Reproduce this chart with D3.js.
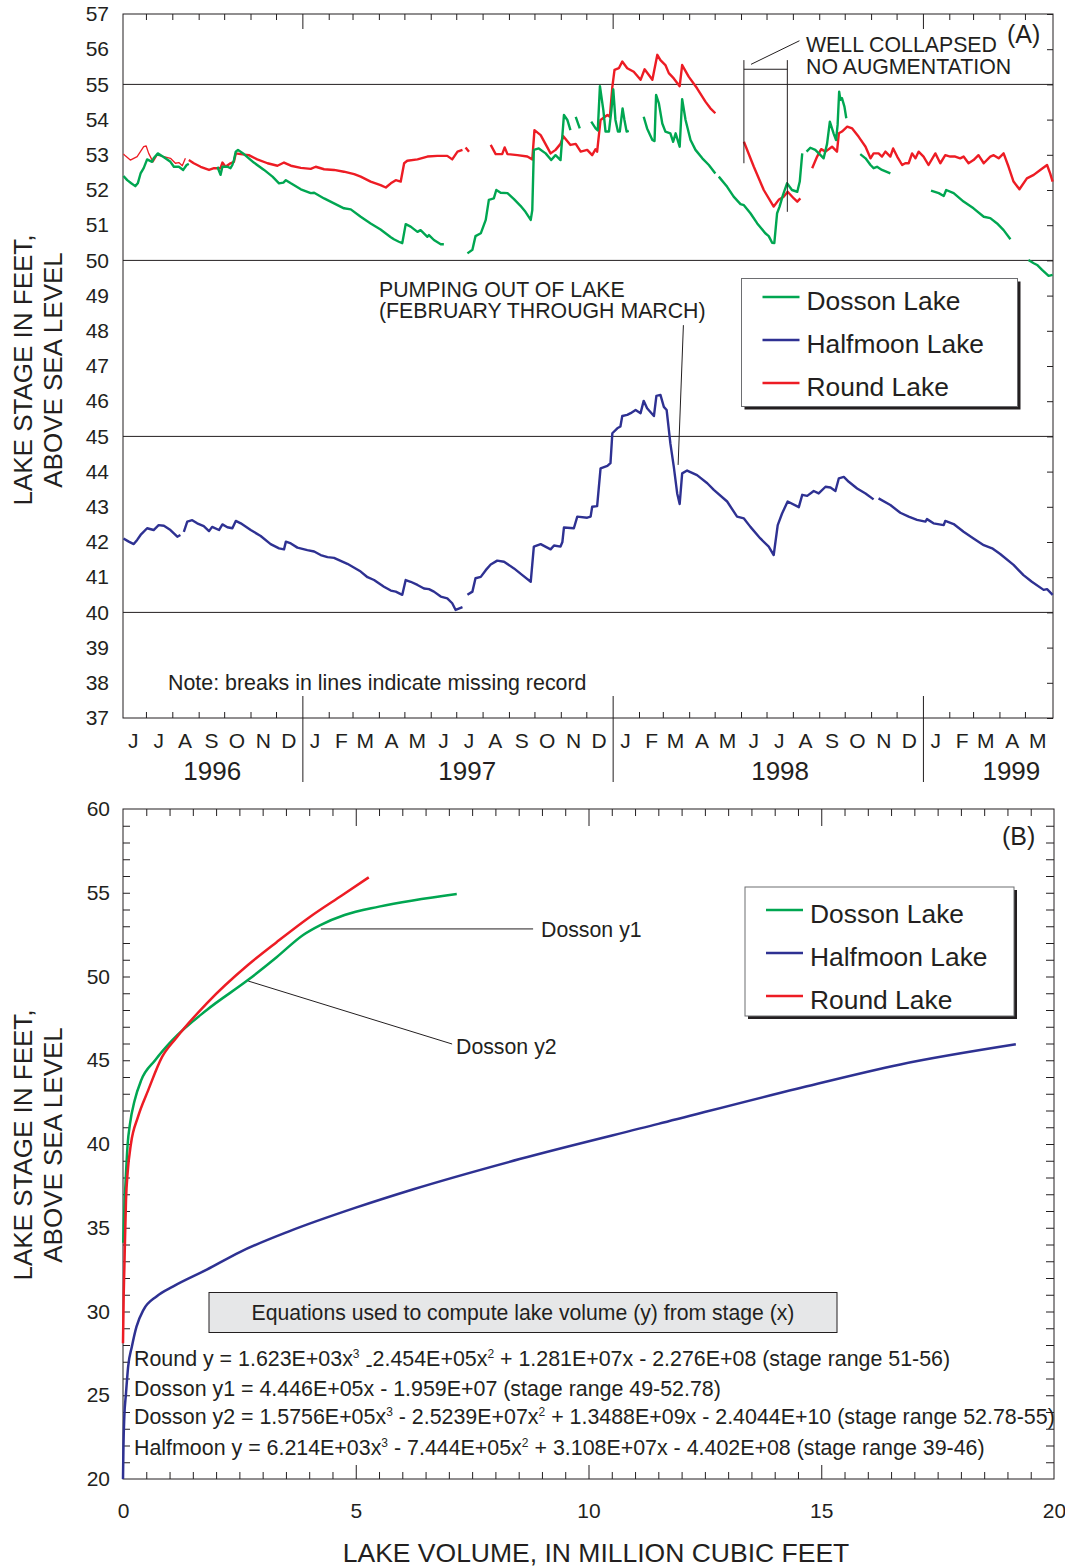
<!DOCTYPE html>
<html>
<head>
<meta charset="utf-8">
<script src="https://cdn.jsdelivr.net/npm/d3@7"></script>
<style>
body { margin: 0; background: #fff; }
svg text { font-family: "Liberation Sans", Arial, Helvetica, sans-serif; fill: #231f20; }
</style>
</head>
<body>
<svg id="chart" width="1065" height="1568"></svg>
<script>
// lake stage records, [decimal year, stage in feet]; null = missing record
var dossonRecord = [
  [1996.425,52.40],[1996.437,52.28],[1996.450,52.19],[1996.463,52.11],[1996.471,52.19],[1996.480,52.47],
  [1996.490,52.62],[1996.501,52.87],[1996.517,52.80],[1996.522,52.90],[1996.535,53.04],[1996.555,52.93],
  [1996.576,52.80],[1996.587,52.66],[1996.603,52.66],[1996.617,52.57],[1996.628,52.71],[1996.635,52.74],
  null,
  [1996.727,52.66],[1996.737,52.43],[1996.743,52.66],[1996.759,52.66],[1996.769,52.62],[1996.775,52.71],
  [1996.780,52.85],[1996.786,53.09],[1996.793,53.14],[1996.812,53.02],[1996.844,52.78],[1996.877,52.57],
  [1996.904,52.38],[1996.925,52.19],[1996.939,52.21],[1996.947,52.28],[1996.963,52.19],[1996.995,52.02],
  [1997.027,51.91],[1997.038,51.92],[1997.070,51.76],[1997.102,51.62],[1997.134,51.48],[1997.156,51.45],
  [1997.188,51.24],[1997.220,51.05],[1997.252,50.88],[1997.285,50.66],[1997.295,50.60],[1997.311,50.53],
  [1997.322,50.49],[1997.333,51.03],[1997.349,50.96],[1997.371,50.81],[1997.381,50.86],[1997.403,50.67],
  [1997.408,50.72],[1997.424,50.58],[1997.446,50.46],[1997.456,50.46],
  null,
  [1997.532,50.20],[1997.548,50.30],[1997.558,50.69],[1997.575,50.77],[1997.591,51.15],[1997.601,51.72],
  [1997.617,51.76],[1997.625,52.00],[1997.639,51.92],[1997.661,51.91],[1997.682,51.74],[1997.703,51.55],
  [1997.719,51.38],[1997.736,51.15],[1997.741,51.43],[1997.746,53.14],[1997.762,53.18],[1997.784,53.04],
  [1997.802,52.85],[1997.816,52.99],[1997.832,52.85],[1997.843,54.13],[1997.854,53.99],[1997.864,53.70],
  null,
  [1997.881,54.08],[1997.894,53.75],
  null,
  [1997.931,53.94],[1997.945,53.75],[1997.952,53.69],[1997.959,54.95],[1997.970,54.27],[1997.977,53.66],
  [1997.988,53.66],[1997.996,54.27],[1998.002,54.86],[1998.009,53.99],[1998.017,53.66],[1998.023,53.66],
  [1998.032,54.32],[1998.038,53.99],[1998.045,53.66],[1998.052,53.68],
  null,
  [1998.100,54.08],[1998.111,53.75],[1998.128,53.42],[1998.135,53.39],[1998.140,54.70],[1998.149,54.46],
  [1998.160,53.89],[1998.170,53.66],[1998.186,53.61],[1998.195,53.37],[1998.203,53.61],[1998.216,53.23],
  [1998.224,54.58],[1998.235,53.99],[1998.251,53.42],[1998.267,53.14],[1998.289,52.90],[1998.310,52.71],
  [1998.331,52.47],
  null,
  [1998.342,52.38],[1998.369,52.09],[1998.390,51.81],[1998.412,51.60],[1998.423,51.57],[1998.444,51.34],
  [1998.466,51.05],[1998.492,50.77],[1998.503,50.69],[1998.514,50.50],[1998.521,50.49],[1998.530,51.34],
  [1998.538,51.53],[1998.549,51.86],[1998.562,52.19],[1998.578,52.00],[1998.595,51.95],[1998.603,52.24],
  [1998.611,53.04],
  null,
  [1998.625,53.09],[1998.637,53.20],[1998.653,53.14],[1998.670,52.99],[1998.680,52.90],[1998.691,53.31],
  [1998.700,53.94],[1998.712,53.61],[1998.720,53.42],[1998.725,53.85],[1998.730,54.79],[1998.734,54.56],
  [1998.739,54.61],[1998.747,54.37],[1998.753,54.04],
  null,
  [1998.798,53.02],[1998.815,52.90],[1998.831,52.71],[1998.841,52.62],[1998.852,52.66],[1998.868,52.57],
  [1998.895,52.47],
  null,
  [1999.026,51.98],[1999.051,51.91],[1999.067,51.83],[1999.075,52.00],[1999.099,51.91],[1999.131,51.67],
  [1999.163,51.48],[1999.196,51.24],[1999.217,51.20],[1999.239,51.05],[1999.260,50.86],[1999.282,50.60],
  null,
  [1999.340,50.01],[1999.357,49.92],[1999.368,49.87],[1999.384,49.73],[1999.405,49.56],[1999.418,49.59]
];

var halfmoonRecord = [
  [1996.425,42.10],[1996.442,42.01],[1996.458,41.94],[1996.469,42.06],[1996.480,42.20],[1996.501,42.39],
  [1996.522,42.34],[1996.538,42.48],[1996.555,42.46],[1996.576,42.34],[1996.598,42.15],[1996.608,42.20],
  null,
  [1996.619,42.29],[1996.630,42.58],[1996.646,42.62],[1996.662,42.53],[1996.683,42.45],[1996.700,42.31],
  [1996.710,42.43],[1996.732,42.34],[1996.743,42.50],[1996.759,42.42],[1996.775,42.39],[1996.786,42.60],
  [1996.802,42.53],[1996.834,42.34],[1996.866,42.17],[1996.898,41.94],[1996.925,41.82],[1996.941,41.79],
  [1996.947,42.01],[1996.963,41.96],[1996.984,41.84],[1997.016,41.77],[1997.038,41.73],[1997.059,41.63],
  [1997.081,41.57],[1997.102,41.55],[1997.145,41.38],[1997.188,41.16],[1997.210,41.00],[1997.231,40.92],
  [1997.263,40.73],[1997.285,40.62],[1997.301,40.59],[1997.322,40.50],[1997.333,40.92],[1997.349,40.87],
  [1997.371,40.78],[1997.392,40.68],[1997.408,40.66],[1997.424,40.59],[1997.446,40.45],[1997.467,40.40],
  [1997.483,40.26],[1997.494,40.07],[1997.516,40.15],
  null,
  [1997.532,40.50],[1997.548,40.59],[1997.558,40.97],[1997.575,41.01],[1997.591,41.20],[1997.607,41.36],
  [1997.628,41.47],[1997.650,41.44],[1997.682,41.25],[1997.709,41.06],[1997.736,40.87],[1997.746,41.87],
  [1997.768,41.94],[1997.800,41.79],[1997.811,41.90],[1997.832,41.87],[1997.838,42.00],[1997.843,42.41],
  [1997.875,42.39],[1997.886,42.72],[1997.918,42.69],[1997.929,42.72],[1997.934,43.00],[1997.950,43.02],
  [1997.961,44.09],[1997.983,44.16],[1997.993,44.24],[1997.999,45.09],[1998.015,45.23],[1998.025,45.28],
  [1998.031,45.58],[1998.047,45.61],[1998.058,45.66],[1998.074,45.75],[1998.090,45.66],[1998.100,46.01],
  [1998.111,45.80],[1998.133,45.58],[1998.141,46.15],[1998.154,46.18],[1998.165,45.84],[1998.174,45.75],
  [1998.186,44.80],[1998.197,44.14],[1998.208,43.38],[1998.216,43.08],[1998.224,43.95],[1998.240,44.03],
  [1998.272,43.90],[1998.305,43.67],[1998.326,43.48],[1998.369,43.15],[1998.401,42.72],[1998.423,42.67],
  [1998.444,42.43],[1998.476,42.10],[1998.503,41.87],[1998.519,41.63],[1998.532,42.48],[1998.546,42.81],
  [1998.564,43.15],[1998.600,42.99],[1998.611,43.34],[1998.627,43.31],[1998.648,43.45],[1998.664,43.38],
  [1998.686,43.57],[1998.702,43.55],[1998.718,43.45],[1998.729,43.81],[1998.745,43.85],[1998.761,43.71],
  [1998.788,43.52],[1998.815,43.38],[1998.841,43.21],
  null,
  [1998.857,43.24],[1998.895,43.05],[1998.927,42.83],[1998.954,42.72],[1998.981,42.63],[1999.008,42.58],
  [1999.013,42.65],[1999.034,42.53],[1999.067,42.48],[1999.072,42.60],[1999.099,42.51],[1999.131,42.29],
  [1999.163,42.10],[1999.196,41.91],[1999.223,41.82],[1999.249,41.66],[1999.292,41.35],[1999.324,41.06],
  [1999.351,40.87],[1999.389,40.64],[1999.400,40.66],[1999.418,40.50]
];

var roundRecord = [
  [1996.425,53.02],[1996.431,52.97],[1996.447,52.85],[1996.469,52.95],[1996.490,53.23],[1996.498,53.25],
  [1996.506,53.04],[1996.520,52.80],[1996.533,52.99],[1996.555,52.95],[1996.576,52.90],[1996.592,52.76],
  [1996.603,52.78],[1996.614,52.69],[1996.624,52.90],
  null,
  [1996.635,52.85],[1996.651,52.76],[1996.673,52.66],[1996.700,52.57],[1996.716,52.62],[1996.737,52.62],
  [1996.743,52.78],[1996.753,52.66],[1996.769,52.76],[1996.780,52.80],[1996.786,53.04],[1996.802,53.02],
  [1996.828,52.99],[1996.855,52.87],[1996.888,52.76],[1996.920,52.69],[1996.941,52.78],[1996.963,52.69],
  [1996.995,52.63],[1997.027,52.60],[1997.043,52.66],[1997.070,52.59],[1997.102,52.57],[1997.134,52.52],
  [1997.167,52.45],[1997.188,52.38],[1997.220,52.24],[1997.252,52.14],[1997.269,52.07],[1997.285,52.19],
  [1997.301,52.28],[1997.317,52.24],[1997.328,52.76],[1997.338,52.83],[1997.371,52.87],[1997.403,52.95],
  [1997.435,52.97],[1997.467,52.97],[1997.483,52.87],[1997.500,53.09],[1997.516,53.14],
  null,
  [1997.526,53.21],[1997.537,53.09],
  null,
  [1997.607,53.28],[1997.623,53.02],[1997.644,53.02],[1997.652,53.21],[1997.661,53.02],[1997.693,52.99],
  [1997.725,52.95],[1997.741,52.87],[1997.748,53.70],[1997.768,53.56],[1997.800,53.04],[1997.816,53.14],
  [1997.832,53.31],[1997.841,53.53],[1997.864,53.28],[1997.881,53.31],[1997.897,53.09],[1997.918,53.14],
  [1997.934,52.99],[1997.945,53.16],[1997.950,53.09],[1997.961,53.99],[1997.983,54.13],[1997.991,54.08],
  [1997.999,54.93],[1998.006,55.41],[1998.020,55.46],[1998.031,55.65],[1998.047,55.46],[1998.068,55.36],
  [1998.090,55.13],[1998.103,55.43],[1998.128,55.13],[1998.144,55.84],[1998.154,55.69],[1998.170,55.55],
  [1998.181,55.32],[1998.197,55.17],[1998.216,54.95],[1998.224,55.55],[1998.245,55.22],[1998.272,54.89],
  [1998.299,54.51],[1998.315,54.32],[1998.331,54.18],
  null,
  [1998.423,53.37],[1998.455,52.66],[1998.487,52.00],[1998.519,51.53],[1998.535,51.72],[1998.551,51.81],
  [1998.564,51.95],[1998.584,51.76],[1998.595,51.67],[1998.605,51.76],
  null,
  [1998.643,52.62],[1998.659,52.95],[1998.672,53.16],[1998.686,53.09],[1998.707,53.23],[1998.723,53.09],
  [1998.729,53.61],[1998.739,53.66],[1998.756,53.80],[1998.772,53.75],[1998.793,53.51],[1998.815,53.23],
  [1998.831,52.90],[1998.841,53.04],[1998.857,53.04],[1998.868,52.95],[1998.879,53.09],[1998.895,52.95],
  [1998.904,53.18],[1998.917,52.95],[1998.933,52.71],[1998.943,52.76],[1998.954,52.76],[1998.965,53.04],
  [1998.976,52.90],[1998.986,53.09],[1999.002,52.95],[1999.018,52.71],[1999.040,53.04],[1999.056,52.76],
  [1999.072,52.99],[1999.088,52.95],[1999.104,52.95],[1999.120,52.90],[1999.131,52.95],[1999.147,52.76],
  [1999.163,52.85],[1999.179,52.99],[1999.196,52.76],[1999.217,52.95],[1999.228,52.99],[1999.244,52.90],
  [1999.260,53.04],[1999.276,52.66],[1999.292,52.24],[1999.311,52.02],[1999.335,52.33],[1999.357,52.43],
  [1999.378,52.57],[1999.400,52.71],[1999.410,52.47],[1999.418,52.24]
];

// stage-volume curves, [volume in million cubic feet, stage in feet]
var dossonCurve = [
  [0.005,34.1],[0.03,36.2],[0.06,38.0],[0.1,40.0],[0.15,41.2],[0.25,42.6],[0.39,43.8],[0.69,45.0],
  [1.06,46.2],[1.8,48.0],[2.69,49.8],[3.3,51.15],[3.87,52.48],[4.24,53.07],[4.76,53.67],[5.5,54.17],[7.17,54.93]
];
var halfmoonCurve = [
  [0,20],[0.01,22],[0.028,23.7],[0.064,25.1],[0.11,26.7],[0.19,27.9],[0.29,29.1],[0.44,30.1],[0.72,30.9],
  [1.08,31.5],[1.8,32.5],[2.51,33.55],[3.58,34.8],[5.0,36.2],[6.24,37.3],[8.52,39.1],[11.5,41.2],
  [14.48,43.3],[16.7,44.75],[19.18,45.95]
];
var roundCurve = [
  [0,28.1],[0.015,31],[0.03,32.7],[0.065,36.7],[0.1,38.3],[0.17,40.0],[0.32,41.6],[0.54,43.2],[0.84,45.2],
  [1.135,46.3],[1.8,48.4],[2.69,50.7],[3.3,52.05],[4.02,53.57],[4.7,54.84],[5.28,55.92]
];

var lakeNames = ["Dosson Lake", "Halfmoon Lake", "Round Lake"];
var monthLetters = ["J","F","M","A","M","J","J","A","S","O","N","D"];
var yearLabels = ["1996", "1997", "1998", "1999"];
var gridStages = [55, 50, 45, 40];
var volumeTicks = [0, 5, 10, 15, 20];
var stageTicksB = [20, 25, 30, 35, 40, 45, 50, 55, 60];
var equations = [
  [["Round y = 1.623E+03x"], ["3", "sup"], [" "], ["-", "low"], ["2.454E+05x"], ["2", "sup"], [" + 1.281E+07x - 2.276E+08 (stage range 51-56)"]],
  [["Dosson y1 = 4.446E+05x - 1.959E+07 (stage range 49-52.78)"]],
  [["Dosson y2 = 1.5756E+05x"], ["3", "sup"], [" - 2.5239E+07x"], ["2", "sup"], [" + 1.3488E+09x - 2.4044E+10 (stage range 52.78-55)"]],
  [["Halfmoon y = 6.214E+03x"], ["3", "sup"], [" - 7.444E+05x"], ["2", "sup"], [" + 3.108E+07x - 4.402E+08 (stage range 39-46)"]]
];

var ink = "#231f20";
var lakeColors = ["#00a651", "#2e3192", "#ed1c24"];
var noteSize = 21.3;

function decYear(t) {
  var y = Math.floor(t), a = new Date(y, 0, 1), b = new Date(y + 1, 0, 1);
  return new Date(+a + (t - y) * (b - a));
}

var svg = d3.select("#chart");
svg.append("rect").attr("width", 1065).attr("height", 1568).attr("fill", "#fff");

function addText(g, x, y, str, size, anchor) {
  return g.append("text").attr("x", x).attr("y", y).attr("font-size", size)
    .attr("text-anchor", anchor || "start").text(str);
}
function seg(g, x1, y1, x2, y2, w) {
  return g.append("line").attr("x1", x1).attr("y1", y1).attr("x2", x2).attr("y2", y2)
    .attr("stroke", ink).attr("stroke-width", w || 1);
}
function bareAxis(g, axis, tx, ty) {
  var a = g.append("g").attr("transform", "translate(" + tx + "," + ty + ")").call(axis);
  a.select(".domain").remove();
  a.selectAll("line").attr("stroke", ink);
  return a;
}
function legend(g, x, y, w, h, rows) {
  g.append("rect").attr("x", x + 3).attr("y", y + 3).attr("width", w).attr("height", h).attr("fill", ink);
  g.append("rect").attr("x", x).attr("y", y).attr("width", w).attr("height", h)
    .attr("fill", "#fff").attr("stroke", "#6d6e71").attr("stroke-width", 1);
  lakeNames.forEach(function(name, i) {
    seg(g, x + 21, rows[i] - 3, x + 58, rows[i] - 3, 2.5).attr("stroke", lakeColors[i]);
    addText(g, x + 65, rows[i] + 9.5, name, 26.4);
  });
}
function yTitle(g, cy) {
  g.append("text").attr("transform", "translate(32," + cy + ") rotate(-90)")
    .attr("text-anchor", "middle").attr("font-size", 26).text("LAKE STAGE IN FEET,");
  g.append("text").attr("transform", "translate(62," + cy + ") rotate(-90)")
    .attr("text-anchor", "middle").attr("font-size", 26).text("ABOVE SEA LEVEL");
}

// ---------- panel A : stage hydrographs ----------
var xA = d3.scaleTime().domain([new Date(1996, 5, 4), new Date(1999, 5, 3)]).range([123, 1053]);
var yA = d3.scaleLinear().domain([37, 57]).range([718, 14]);
var gA = svg.append("g");

var months = d3.timeMonth.range(new Date(1996, 6, 1), new Date(1999, 5, 1));
var plainMonths = months.filter(function(d) { return d.getMonth() !== 0; });
var yearStarts = months.filter(function(d) { return d.getMonth() === 0; });

gridStages.forEach(function(s) { seg(gA, 123, yA(s), 1053, yA(s)); });

bareAxis(gA, d3.axisBottom(xA).tickValues(plainMonths).tickSize(6).tickFormat(""), 0, yA(57));
bareAxis(gA, d3.axisBottom(xA).tickValues(yearStarts).tickSize(15).tickFormat(""), 0, yA(57));
bareAxis(gA, d3.axisTop(xA).tickValues(plainMonths).tickSize(6).tickFormat(""), 0, yA(37));
bareAxis(gA, d3.axisBottom(xA).tickValues(yearStarts).tickSize(86).tickFormat(""), 0, yA(37) - 22);
bareAxis(gA, d3.axisLeft(yA).tickValues(d3.range(37, 58)).tickSize(6).tickFormat(""), 1053, 0);
bareAxis(gA, d3.axisLeft(yA).tickValues(d3.range(37, 58)).tickSize(0).tickPadding(14), 123, 0)
  .attr("font-size", 21).attr("font-family", null);

gA.append("rect").attr("x", 123).attr("y", yA(57)).attr("width", 930).attr("height", yA(37) - yA(57))
  .attr("fill", "none").attr("stroke", ink).attr("stroke-width", 1);

var monthStarts = d3.timeMonth.range(new Date(1996, 5, 1), new Date(1999, 5, 1));
gA.selectAll("text.month").data(monthStarts).join("text").attr("class", "month")
  .attr("x", function(d) { return xA(d3.timeDay.offset(d, 15)); }).attr("y", 748)
  .attr("text-anchor", "middle").attr("font-size", 21)
  .text(function(d) { return monthLetters[d.getMonth()]; });
var yearAnchors = [new Date(1996, 8, 17), new Date(1997, 6, 14), new Date(1998, 6, 17), new Date(1999, 3, 15)];
yearLabels.forEach(function(lbl, i) { addText(gA, xA(yearAnchors[i]), 780, lbl, 26, "middle"); });

var lineA = d3.line().defined(function(d) { return d !== null; })
  .x(function(d) { return xA(decYear(d[0])); }).y(function(d) { return yA(d[1]); });
[[halfmoonRecord, 1], [roundRecord, 2], [dossonRecord, 0]].forEach(function(p) {
  var firstBreak = p[0].indexOf(null);
  var isRound = p[1] === 2;
  // the first Round Lake stretch is drawn with a finer pen in the original
  gA.append("path").datum(isRound ? p[0].slice(0, firstBreak) : []).attr("d", lineA).attr("fill", "none")
    .attr("stroke", lakeColors[p[1]]).attr("stroke-width", 1.3).attr("stroke-linejoin", "round");
  gA.append("path").datum(isRound ? p[0].slice(firstBreak) : p[0]).attr("d", lineA).attr("fill", "none")
    .attr("stroke", lakeColors[p[1]]).attr("stroke-width", 2.4).attr("stroke-linejoin", "round");
});

// annotations A
var tA = function(t) { return xA(decYear(t)); };
seg(gA, tA(1998.423), yA(55.69), tA(1998.423), yA(52.76));
seg(gA, tA(1998.563), yA(55.69), tA(1998.563), yA(51.38));
seg(gA, tA(1998.423), yA(55.43), tA(1998.563), yA(55.43));
seg(gA, tA(1998.446), yA(55.57), tA(1998.602), yA(56.24));
addText(gA, 806, 51.5, "WELL COLLAPSED", noteSize);
addText(gA, 806, 74, "NO AUGMENTATION", noteSize);
addText(gA, 1007, 43, "(A)", 25);
addText(gA, 379, 296.5, "PUMPING OUT OF LAKE", noteSize);
addText(gA, 379, 317.5, "(FEBRUARY THROUGH MARCH)", noteSize);
seg(gA, tA(1998.228), yA(48.16), tA(1998.211), yA(44.19));
addText(gA, 168, 690, "Note: breaks in lines indicate missing record", 21.4);
legend(gA, 741.5, 278.5, 276, 128, [300, 343, 386]);
yTitle(gA, 370);

// ---------- panel B : stage-volume relations ----------
var xB = d3.scaleLinear().domain([0, 20]).range([123, 1054]);
var yB = d3.scaleLinear().domain([20, 60]).range([1479, 809]);
var gB = svg.append("g");

var minorVol = d3.range(0.5, 20, 0.5).filter(function(v) { return v % 5 !== 0; });
var unitStages = d3.range(21, 60);
bareAxis(gB, d3.axisTop(xB).tickValues(minorVol).tickSize(7).tickFormat(""), 0, yB(20));
bareAxis(gB, d3.axisTop(xB).tickValues([5, 10, 15]).tickSize(14).tickFormat(""), 0, yB(20));
bareAxis(gB, d3.axisBottom(xB).tickValues(minorVol).tickSize(7).tickFormat(""), 0, yB(60));
bareAxis(gB, d3.axisBottom(xB).tickValues([5, 10, 15]).tickSize(17).tickFormat(""), 0, yB(60));
bareAxis(gB, d3.axisRight(yB).tickValues(unitStages).tickSize(7).tickFormat(""), xB(0), 0);
bareAxis(gB, d3.axisLeft(yB).tickValues(unitStages).tickSize(8).tickFormat(""), xB(20), 0);
bareAxis(gB, d3.axisBottom(xB).tickValues(volumeTicks).tickSize(0).tickPadding(24), 0, yB(20))
  .attr("font-size", 21).attr("font-family", null);
bareAxis(gB, d3.axisLeft(yB).tickValues(stageTicksB).tickSize(0).tickPadding(13), xB(0), 0)
  .attr("font-size", 21).attr("font-family", null);

gB.append("rect").attr("x", xB(0)).attr("y", yB(60)).attr("width", xB(20) - xB(0)).attr("height", yB(20) - yB(60))
  .attr("fill", "none").attr("stroke", ink).attr("stroke-width", 1);

// equations box
gB.append("rect").attr("x", 209).attr("y", 1292.5).attr("width", 628).attr("height", 40)
  .attr("fill", "#e6e7e8").attr("stroke", ink).attr("stroke-width", 1);
addText(gB, 523, 1319.5, "Equations used to compute lake volume (y) from stage (x)", 21.2, "middle");
var eqBaselines = [1366, 1395.5, 1424, 1454.5];
equations.forEach(function(parts, i) {
  var t = gB.append("text").attr("x", 134).attr("y", eqBaselines[i]).attr("font-size", 21.4).style("white-space", "pre");
  var shift = 0;
  parts.forEach(function(p) {
    var target = p[1] === "sup" ? -8 : (p[1] === "low" ? 6 : 0);
    t.append("tspan").attr("dy", target - shift).attr("font-size", p[1] === "sup" ? 12 : null).text(p[0]);
    shift = target;
  });
});

var lineB = d3.line().curve(d3.curveMonotoneX)
  .x(function(d) { return xB(d[0]); }).y(function(d) { return yB(d[1]); });
[[halfmoonCurve, 1], [dossonCurve, 0], [roundCurve, 2]].forEach(function(p) {
  gB.append("path").datum(p[0]).attr("d", lineB).attr("fill", "none")
    .attr("stroke", lakeColors[p[1]]).attr("stroke-width", 2.5);
});

seg(gB, xB(4.25), yB(52.84), xB(8.81), yB(52.84));
addText(gB, 541, 937, "Dosson y1", noteSize);
seg(gB, xB(2.69), yB(49.73), xB(7.07), yB(45.97));
addText(gB, 456, 1054, "Dosson y2", noteSize);
addText(gB, 1002, 845, "(B)", 25);
legend(gB, 745, 887, 269, 129, [913, 956, 999]);
yTitle(gB, 1145);
addText(gB, 596, 1562, "LAKE VOLUME, IN MILLION CUBIC FEET", 26.5, "middle");
</script>
</body>
</html>
